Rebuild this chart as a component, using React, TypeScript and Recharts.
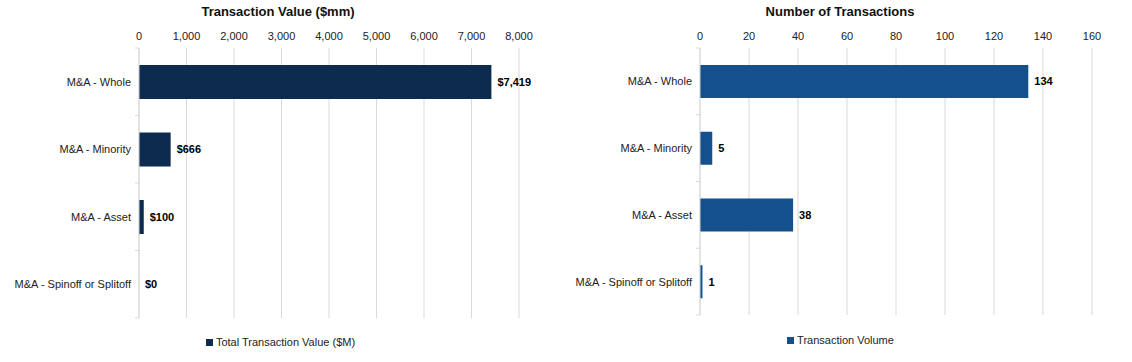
import React from 'react';
import { BarChart, Bar, XAxis, YAxis, CartesianGrid, Legend } from 'recharts';

const categories = ['M&A - Whole', 'M&A - Minority', 'M&A - Asset', 'M&A - Spinoff or Splitoff'];
const transactionValues = [7419, 666, 100, 0];
const transactionCounts = [134, 5, 38, 1];
const valueTicks = [0, 1000, 2000, 3000, 4000, 5000, 6000, 7000, 8000];
const countTicks = [0, 20, 40, 60, 80, 100, 120, 140, 160];

const valueData = categories.map((name, i) => ({ name, value: transactionValues[i] }));
const countData = categories.map((name, i) => ({ name, value: transactionCounts[i] }));

const FONT = '"Liberation Sans", Arial, sans-serif';
const GRID = '#d9d9d9';
const LEFT_COLOR = '#0d2b4e';
const RIGHT_COLOR = '#14508b';

const tickStyle = { fontSize: 11, fill: '#222', fontFamily: FONT };

function CategoryTick(props: any) {
  const { x, y, payload, index } = props;
  const half = payload && payload.offset ? payload.offset : 0;
  const axisX = x + 8;
  const isLast = index === categories.length - 1;
  return (
    <g>
      <line x1={axisX - 4} x2={axisX} y1={y - half} y2={y - half} stroke={GRID} />
      {isLast && <line x1={axisX - 4} x2={axisX} y1={y + half} y2={y + half} stroke={GRID} />}
      <text x={x} y={y} dy="0.355em" textAnchor="end" fontSize={11} fill="#222" fontFamily={FONT}>
        {payload.value}
      </text>
    </g>
  );
}

function makeBarShape(color: string, format: (v: number) => string) {
  return (props: any) => {
    const { x, y, width, height, value, payload } = props;
    const v = payload && payload.value !== undefined ? payload.value : Array.isArray(value) ? value[1] : value;
    return (
      <g>
        {width > 0 && <rect x={x} y={y} width={width} height={height} fill={color} />}
        <text
          x={x + Math.max(width, 0) + 6}
          y={y + height / 2}
          dy="0.355em"
          textAnchor="start"
          fontSize={11}
          fontWeight={700}
          fill="#000"
          fontFamily={FONT}
        >
          {format(v)}
        </text>
      </g>
    );
  };
}

function makeLegend(label: string, color: string, height: number, padTop: number, padRight: number) {
  return () => (
    <div
      style={{
        height,
        boxSizing: 'border-box',
        paddingTop: padTop,
        paddingRight: padRight,
        display: 'flex',
        justifyContent: 'center',
        alignItems: 'flex-start',
        fontFamily: FONT,
        fontSize: 11,
        color: '#222',
      }}
    >
      <span style={{ display: 'flex', alignItems: 'center', lineHeight: '14px' }}>
        <span style={{ width: 7, height: 7, background: color, display: 'inline-block', marginRight: 3 }} />
        {label}
      </span>
    </div>
  );
}

const titleStyle: React.CSSProperties = {
  position: 'absolute',
  top: 4,
  fontFamily: FONT,
  fontWeight: 700,
  fontSize: 13,
  color: '#111',
  textAlign: 'center',
  lineHeight: '16px',
};

export default function App() {
  return (
    <div style={{ position: 'absolute', left: 0, top: 0, width: 1132, height: 362, background: '#fff', fontFamily: FONT }}>
      <div style={{ ...titleStyle, left: 0, width: 556 }}>Transaction Value ($mm)</div>
      <div style={{ ...titleStyle, left: 561, width: 558 }}>Number of Transactions</div>

      <div style={{ position: 'absolute', left: 0, top: 0 }}>
        <BarChart
          width={561}
          height={362}
          data={valueData}
          layout="vertical"
          margin={{ top: 28, right: 42, bottom: 0, left: 0 }}
          barCategoryGap="25%"
        >
          <CartesianGrid horizontal={false} vertical={true} stroke={GRID} />
          <XAxis
            type="number"
            orientation="top"
            height={20}
            domain={[0, 8000]}
            ticks={valueTicks}
            interval={0}
            axisLine={false}
            tickLine={false}
            tick={tickStyle}
            tickFormatter={(v: number) => v.toLocaleString('en-US')}
          />
          <YAxis
            type="category"
            dataKey="name"
            width={139}
            axisLine={{ stroke: GRID }}
            tickLine={false}
            tick={<CategoryTick />}
            interval={0}
          />
          <Legend
            verticalAlign="bottom"
            wrapperStyle={{ left: 0, width: 561, bottom: 0 }}
            content={makeLegend('Total Transaction Value ($M)', LEFT_COLOR, 44, 17, 0)}
          />
          <Bar
            dataKey="value"
            name="Total Transaction Value ($M)"
            fill={LEFT_COLOR}
            barSize={34}
            isAnimationActive={false}
            shape={makeBarShape(LEFT_COLOR, (v) => '$' + Number(v).toLocaleString('en-US'))}
          />
        </BarChart>
      </div>

      <div style={{ position: 'absolute', left: 561, top: 0 }}>
        <BarChart
          width={571}
          height={362}
          data={countData}
          layout="vertical"
          margin={{ top: 28, right: 40, bottom: 0, left: 0 }}
          barCategoryGap="25%"
        >
          <CartesianGrid horizontal={false} vertical={true} stroke={GRID} />
          <XAxis
            type="number"
            orientation="top"
            height={20}
            domain={[0, 160]}
            ticks={countTicks}
            interval={0}
            axisLine={false}
            tickLine={false}
            tick={tickStyle}
          />
          <YAxis
            type="category"
            dataKey="name"
            width={139}
            axisLine={{ stroke: GRID }}
            tickLine={false}
            tick={<CategoryTick />}
            interval={0}
          />
          <Legend
            verticalAlign="bottom"
            wrapperStyle={{ left: 0, width: 571, bottom: 0 }}
            content={makeLegend('Transaction Volume', RIGHT_COLOR, 47, 18, 12)}
          />
          <Bar
            dataKey="value"
            name="Transaction Volume"
            fill={RIGHT_COLOR}
            barSize={33}
            isAnimationActive={false}
            shape={makeBarShape(RIGHT_COLOR, (v) => String(v))}
          />
        </BarChart>
      </div>
    </div>
  );
}
